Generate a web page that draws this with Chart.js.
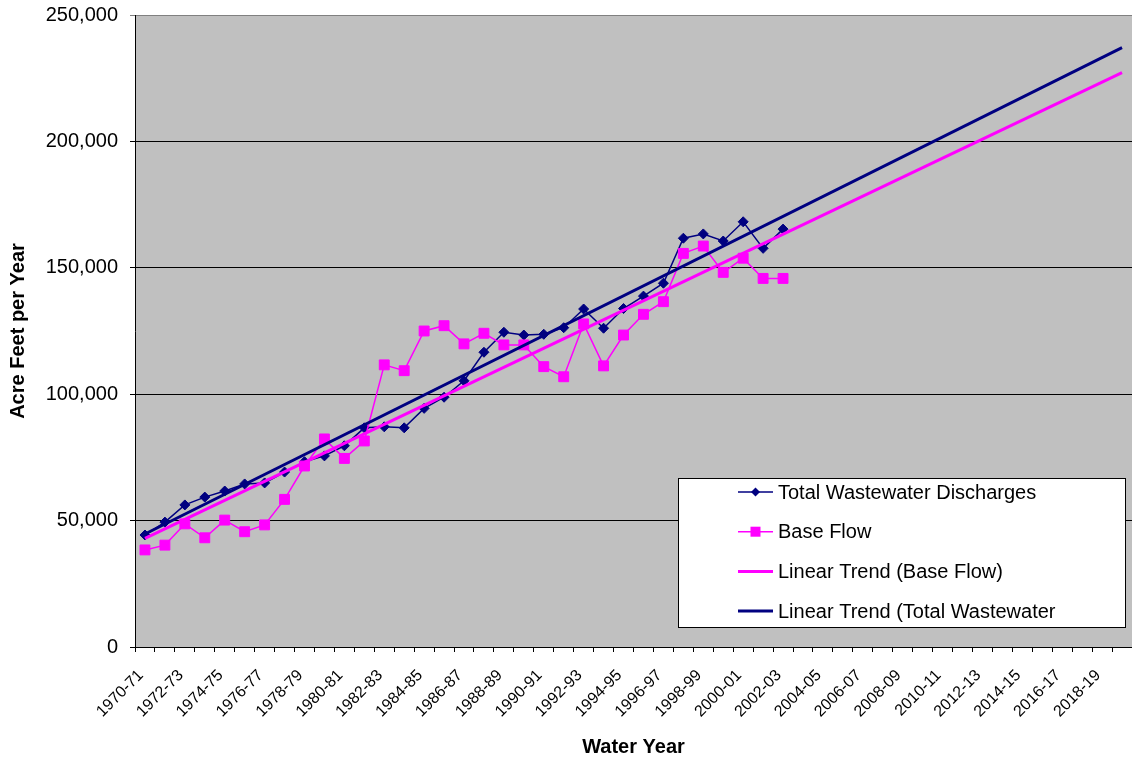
<!DOCTYPE html>
<html lang="en">
<head>
<meta charset="UTF-8">
<title>Wastewater Discharges and Base Flow</title>
<style>
  body { margin: 0; background: #ffffff; }
  canvas { display: block; }
</style>
</head>
<body>
<canvas id="flow-chart" width="1132" height="759"></canvas>
<script src="https://cdn.jsdelivr.net/npm/chart.js"></script>
<script>
// water years on the x axis (1970-71 .. 2019-20)
const waterYears = [
  '1970-71','1971-72','1972-73','1973-74','1974-75','1975-76','1976-77','1977-78','1978-79','1979-80',
  '1980-81','1981-82','1982-83','1983-84','1984-85','1985-86','1986-87','1987-88','1988-89','1989-90',
  '1990-91','1991-92','1992-93','1993-94','1994-95','1995-96','1996-97','1997-98','1998-99','1999-00',
  '2000-01','2001-02','2002-03','2003-04','2004-05','2005-06','2006-07','2007-08','2008-09','2009-10',
  '2010-11','2011-12','2012-13','2013-14','2014-15','2015-16','2016-17','2017-18','2018-19','2019-20'
];

// acre feet per year, 1970-71 .. 2002-03
const totalWastewater = [
  44300, 49400, 56200, 59300, 61700, 64500, 64900, 69200, 73300, 75600,
  79600, 86700, 87100, 86700, 94400, 98800, 105300, 116600, 124500, 123400,
  123700, 126300, 133700, 126100, 133900, 138800, 143900, 161700, 163400, 160600,
  168200, 157700, 165300
];
const baseFlow = [
  38400, 40300, 48700, 43200, 50200, 45600, 48300, 58400, 71600, 82300,
  74600, 81500, 111600, 109300, 125000, 127100, 119900, 124100, 119500, 119500,
  110900, 106900, 127800, 111200, 123400, 131600, 136600, 155700, 158600, 148200,
  153800, 145800, 145800
];

// trend lines: value at the first and at the last water year
const trendBaseEnds = [43000, 227200];
const trendTotalEnds = [44700, 237100];

const NAVY = '#000080';
const MAGENTA = '#FF00FF';
const FONT = '"Liberation Sans", Arial, sans-serif';

function endsToSeries(ends) {
  const out = waterYears.map(() => null);
  out[0] = ends[0];
  out[out.length - 1] = ends[1];
  return out;
}

const plotBackground = {
  id: 'plotBackground',
  beforeDraw(chart) {
    const { ctx, chartArea: a } = chart;
    ctx.save();
    ctx.fillStyle = '#C0C0C0';
    ctx.fillRect(a.left, a.top, a.right - a.left, a.bottom - a.top);
    ctx.restore();
  }
};

// boxed legend sitting inside the plot, bottom right
const boxLegend = {
  id: 'boxLegend',
  afterDraw(chart) {
    const { ctx, chartArea: a } = chart;
    const w = 447, h = 149;
    const x0 = a.right - 7 - w, y0 = a.bottom - 20 - h;
    ctx.save();
    ctx.fillStyle = '#ffffff';
    ctx.fillRect(x0, y0, w, h);
    ctx.strokeStyle = '#000000';
    ctx.lineWidth = 1;
    ctx.strokeRect(x0 + 0.5, y0 + 0.5, w, h);

    const items = [
      { text: 'Total Wastewater Discharges', color: NAVY, width: 1.5, marker: 'diamond' },
      { text: 'Base Flow', color: MAGENTA, width: 1.5, marker: 'square' },
      { text: 'Linear Trend (Base Flow)', color: MAGENTA, width: 3, marker: null },
      { text: 'Linear Trend (Total Wastewater', color: NAVY, width: 3, marker: null }
    ];
    ctx.font = '20px ' + FONT;
    ctx.textBaseline = 'middle';
    ctx.textAlign = 'left';
    items.forEach((it, i) => {
      const y = y0 + 14 + i * 39.7;
      const lx = x0 + 60, rx = x0 + 95, cx = (lx + rx) / 2;
      ctx.strokeStyle = it.color;
      ctx.lineWidth = it.width;
      ctx.beginPath();
      ctx.moveTo(lx, y);
      ctx.lineTo(rx, y);
      ctx.stroke();
      ctx.fillStyle = it.color;
      if (it.marker === 'diamond') {
        ctx.beginPath();
        ctx.moveTo(cx, y - 4.5);
        ctx.lineTo(cx + 4.5, y);
        ctx.lineTo(cx, y + 4.5);
        ctx.lineTo(cx - 4.5, y);
        ctx.closePath();
        ctx.fill();
      } else if (it.marker === 'square') {
        ctx.fillRect(cx - 5, y - 5, 10, 10);
      }
      ctx.fillStyle = '#000000';
      ctx.fillText(it.text, x0 + 100, y + 1);
    });
    ctx.restore();
  }
};

const ctx = document.getElementById('flow-chart').getContext('2d');
new Chart(ctx, {
  type: 'line',
  data: {
    labels: waterYears,
    datasets: [
      {
        label: 'Total Wastewater Discharges',
        data: totalWastewater,
        borderColor: NAVY,
        backgroundColor: NAVY,
        borderWidth: 1.5,
        pointStyle: 'rectRot',
        pointRadius: 5,
        pointBorderWidth: 1,
        order: 4
      },
      {
        label: 'Base Flow',
        data: baseFlow,
        borderColor: MAGENTA,
        backgroundColor: MAGENTA,
        borderWidth: 1.5,
        pointStyle: 'rect',
        pointRadius: 7,
        pointBorderWidth: 1,
        order: 3
      },
      {
        label: 'Linear Trend (Base Flow)',
        data: endsToSeries(trendBaseEnds),
        borderColor: MAGENTA,
        borderWidth: 3,
        pointRadius: 0,
        spanGaps: true,
        order: 2
      },
      {
        label: 'Linear Trend (Total Wastewater',
        data: endsToSeries(trendTotalEnds),
        borderColor: NAVY,
        borderWidth: 3,
        pointRadius: 0,
        spanGaps: true,
        order: 1
      }
    ]
  },
  options: {
    responsive: false,
    animation: false,
    layout: { autoPadding: false, padding: { top: 15, right: 0, bottom: 0, left: 0 } },
    elements: { line: { tension: 0 } },
    plugins: {
      legend: { display: false },
      tooltip: { enabled: false }
    },
    scales: {
      x: {
        type: 'category',
        offset: true,
        grid: { offset: true, drawOnChartArea: false, tickLength: 5, color: '#000000' },
        border: { color: '#000000', width: 1 },
        ticks: {
          autoSkip: false,
          maxRotation: 45,
          minRotation: 45,
          padding: 14,
          labelOffset: -4,
          color: '#000000',
          font: { family: FONT, size: 16 },
          callback: (v, i) => (i % 2 === 0 ? waterYears[i] : '')
        },
        title: {
          display: true,
          text: 'Water Year',
          color: '#000000',
          font: { family: FONT, size: 20, weight: 'bold' },
          padding: { top: 0, bottom: 0 }
        },
        afterFit(scale) {
          scale.height = 112;
          scale.paddingLeft = 0;
          scale.paddingRight = 0;
        }
      },
      y: {
        min: 0,
        max: 250000,
        grid: {
          tickLength: 5,
          lineWidth: 1,
          color: c => (c.tick && c.tick.value === 250000 ? '#808080' : '#000000')
        },
        border: { color: '#000000', width: 1 },
        ticks: {
          stepSize: 50000,
          padding: 12,
          color: '#000000',
          font: { family: FONT, size: 20 },
          callback: v => v.toLocaleString('en-US')
        },
        title: {
          display: true,
          text: 'Acre Feet per Year',
          color: '#000000',
          font: { family: FONT, size: 20, weight: 'bold' },
          padding: { top: 6, bottom: 0 }
        },
        afterFit(scale) {
          scale.width = 135;
          scale.paddingTop = 0;
          scale.paddingBottom = 0;
        }
      }
    }
  },
  plugins: [plotBackground, boxLegend]
});
</script>
</body>
</html>
